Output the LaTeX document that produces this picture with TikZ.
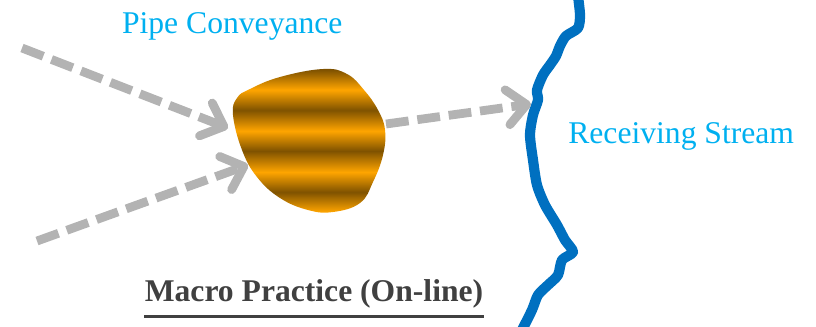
\documentclass[tikz,border=0pt]{standalone}
\usepackage{fontspec}
\setmainfont{Liberation Serif}
\usepackage{tikz}
\usetikzlibrary{arrows.meta}

\definecolor{labelcyan}{HTML}{00B0F0}
\definecolor{titlegray}{HTML}{404040}
\definecolor{flowgray}{HTML}{B3B3B3}
\definecolor{riverblue}{HTML}{0070C0}
\definecolor{orebright}{HTML}{FFA500}
\definecolor{oredark}{HTML}{7F5200}

\pgfdeclareverticalshading{blobstripes}{100bp}{%
  color(0bp)=(orebright); color(26bp)=(orebright);
  color(32.7bp)=(oredark); color(39.4bp)=(orebright);
  color(46.5bp)=(oredark); color(53.2bp)=(orebright);
  color(60.2bp)=(oredark); color(67bp)=(orebright);
  color(73.7bp)=(oredark); color(100bp)=(oredark)}

\tikzset{
  flowarrow/.style={draw=flowgray, line width=5pt,
    dash pattern=on 13pt off 5pt,
    -{Straight Barb[length=11pt, width=20pt, round]}},
  label/.style={text=labelcyan, inner sep=0pt, anchor=base west,
    font=\fontsize{18}{21}\selectfont},
}

\begin{document}
\begin{tikzpicture}[x=0.02cm, y=-0.02cm]
  \useasboundingbox (0,0) rectangle (816,326);

  \begin{scope}
    \clip plot[smooth cycle, tension=0.7] coordinates {
      (233,115) (237,98) (250,89) (280,77) (323,69) (347,74) (364,90)
      (378,110) (385,130) (383,155) (373,182) (360,203) (333,212)
      (308,210) (280,198) (257,177) (242,150)};
    \shade[shading=blobstripes] (225,66) rectangle (395,215);
  \end{scope}

  \draw[riverblue, line width=5.8pt, line join=round]
    plot[smooth, tension=0.45] coordinates {
      (578,-4) (580,15) (578,28) (566,36) (560,46) (556,56) (550,65)
      (543,75) (537,90) (538,100) (533,115) (530,135) (533,160)
      (537,185) (545,205) (557,225) (565,240) (573,252) (562,260)
      (558,275) (548,285) (538,295) (532,310) (522,330)};

  \coordinate (pipeA) at (22,48);
  \coordinate (pipeB) at (37,241);
  \coordinate (blobNW) at (228,128);
  \coordinate (blobSW) at (248,165);
  \coordinate (blobE) at (386,124);
  \coordinate (bank) at (531,104);

  \draw[flowarrow] (pipeA) -- (blobNW);
  \draw[flowarrow] (pipeB) -- (blobSW);
  \draw[flowarrow] (blobE) -- (bank);

  \node[label] (pipe) at (121.7,33) {Pipe Conveyance};
  \node[label] (stream) at (568,143) {Receiving Stream};

  \node[text=titlegray, inner sep=0pt, anchor=base,
    font=\fontsize{18}{21}\selectfont\bfseries] (title) at (314,301)
    {Macro Practice (On-line)};
  \draw[titlegray, line width=1.6pt]
    ([yshift=-8.8pt]title.base west) -- ([yshift=-8.8pt]title.base east);
\end{tikzpicture}
\end{document}
